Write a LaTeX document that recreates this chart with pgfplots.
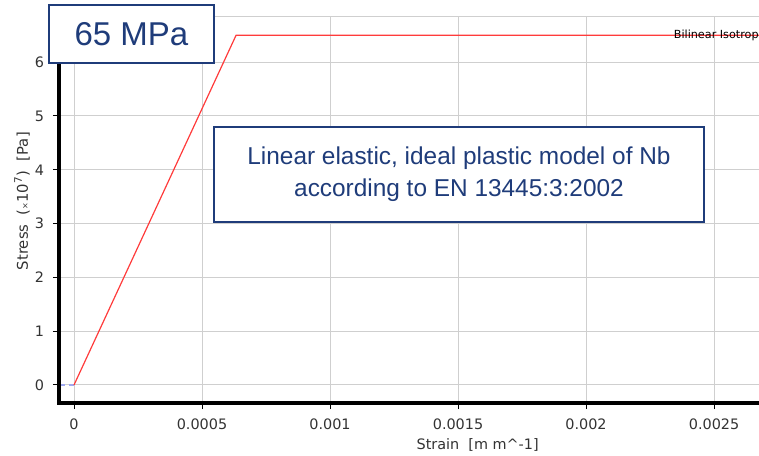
\documentclass[border=0pt]{standalone}
\usepackage{fontspec}
\setmainfont{DejaVu Sans}
\newfontfamily\arial{Liberation Sans}
\usepackage{pgfplots}
\pgfplotsset{compat=1.18}

\definecolor{navy}{HTML}{1F3C7A}
\definecolor{gridgray}{HTML}{CFCFCF}
\definecolor{ticktext}{HTML}{333333}
\definecolor{curve}{HTML}{FF3B3B}
\definecolor{dashblue}{HTML}{9FA8F0}

\begin{document}
\begin{tikzpicture}
% page is 759x455 px at 0.5pt per px
\useasboundingbox (0,0) rectangle (379.5pt,227.5pt);
\begin{axis}[
    at={(29.5pt,26pt)}, anchor=south west,
    scale only axis,
    width=353pt, height=193pt,
    xmin=-0.0000586, xmax=0.002699,
    ymin=-0.335, ymax=6.84,
    xtick={0,0.0005,0.001,0.0015,0.002,0.0025},
    xticklabels={0,0.0005,0.001,0.0015,0.002,0.0025},
    scaled x ticks=false,
    ytick={0,1,2,3,4,5,6},
    yticklabels={0,1,2,3,4,5,6},
    grid=major,
    grid style={draw=gridgray, line width=0.5pt},
    axis line style={draw=gridgray, line width=0.5pt},
    tick align=outside,
    major tick length=3pt,
    tick style={black, line width=0.5pt},
    xtick pos=bottom, ytick pos=left,
    ticklabel style={font=\fontsize{7.2}{8}\selectfont, text=ticktext},
    xticklabel style={yshift=-1.5pt},
    yticklabel style={xshift=-1pt},
    xlabel={Strain\ \ [m m\textasciicircum-1]},
    xlabel style={font=\fontsize{7.2}{8}\selectfont, text=ticktext,
        at={(axis description cs:0.593,0)}, anchor=north, yshift=-14pt},
    ylabel={Stress\ \ ({\fontsize{4}{4}\selectfont ×}10\textsuperscript{7})\ \ [Pa]},
    ylabel style={font=\fontsize{7.4}{8}\selectfont, text=ticktext,
        at={(axis description cs:-0.0524,0.523)}, anchor=center},
    clip=true,
]
\addplot[dashblue, densely dashed, line width=0.6pt] coordinates {
    (-0.0000586,0) (0,0)
};
\addplot[curve, line width=0.6pt] coordinates {
    (0,0) (0.000633,6.5) (0.0027,6.5)
};
\end{axis}
% thick left and bottom axis lines
\draw[black, line width=1.6pt] (29.5pt,219pt) -- (29.5pt,26pt) -- (379.5pt,26pt);
% curve label, as far as the reference shows it
\node[anchor=east, inner sep=0pt, font=\fontsize{5.6}{6}\selectfont, text=black]
    at (379.5pt,210pt) {Bilinear Isotrop};
% annotation boxes
\draw[navy, line width=1pt, fill=white] (24.5pt,196pt) rectangle (107pt,225pt);
\node[text=navy, font=\arial\fontsize{16.5}{18}\selectfont] at (65.75pt,210.5pt) {65 MPa};
\draw[navy, line width=1pt, fill=white] (107pt,116.5pt) rectangle (352pt,164pt);
\node[text=navy, font=\arial\fontsize{12.2}{16}\selectfont, align=center]
    at (229.5pt,140.5pt) {Linear elastic, ideal plastic model of Nb\\according to EN 13445:3:2002};
\end{tikzpicture}
\end{document}
